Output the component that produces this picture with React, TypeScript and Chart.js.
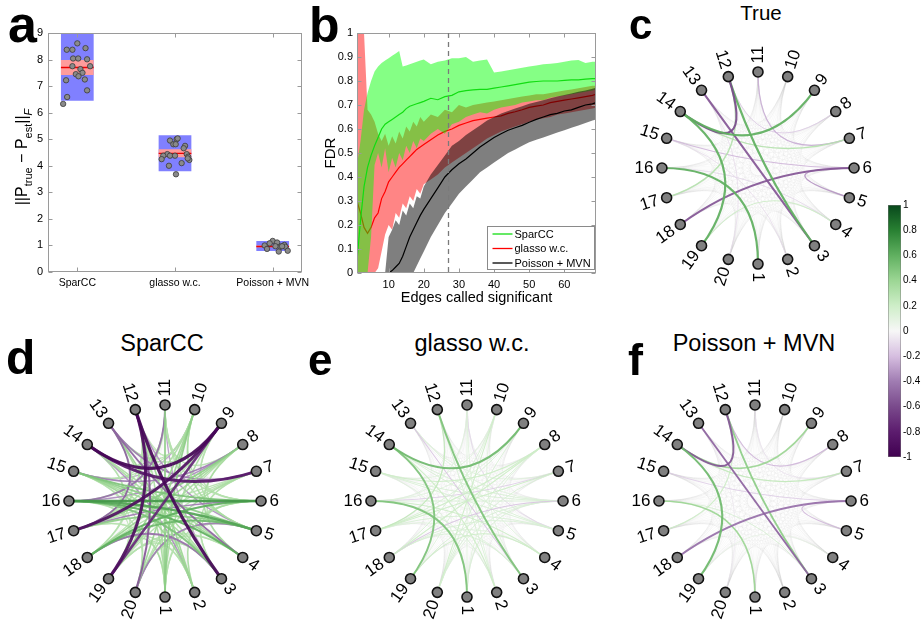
import React, { useEffect, useRef } from 'react';
import { Chart, registerables } from 'chart.js';

Chart.register(...registerables);

const FONT = "'Liberation Sans', Arial, Helvetica, sans-serif";
Chart.defaults.font.family = FONT;
Chart.defaults.color = '#000';

// ---------------- Panel a data ----------------
const methods = ['SparCC', 'glasso w.c.', 'Poisson + MVN'];
const methodPos = [1, 2, 3];
const boxLow = [6.45, 3.79, 0.79];
const boxHigh = [9.0, 5.15, 1.17];
const ciLow = [7.42, 4.32, 0.93];
const ciHigh = [7.98, 4.62, 1.0];
const medians = [7.7, 4.47, 0.96];
const sparccErr = [8.37, 8.37, 8.61, 8.43, 8.04, 8.04, 8.01, 7.75, 7.64, 7.5, 7.45, 7.37, 7.22, 7.25, 7.75, 6.84, 6.59, 6.33];
const sparccJitter = [-0.108, -0.05, 0.0, 0.084, -0.043, 0.009, 0.1, -0.05, 0.032, 0.053, -0.015, 0.012, -0.115, 0.077, 0.131, 0.1, -0.104, -0.145];
const glassoErr = [4.95, 5.0, 5.03, 4.81, 4.81, 4.75, 4.66, 4.44, 4.38, 4.38, 4.38, 4.44, 4.34, 4.22, 4.25, 4.1, 4.0, 3.68, 4.28];
const glassoJitter = [-0.051, 0.017, 0.027, -0.017, 0.007, 0.103, 0.089, -0.079, -0.12, -0.051, 0.0, 0.12, 0.135, 0.147, -0.137, 0.068, -0.062, 0.01, 0.13];
const poissonErr = [1.0, 0.87, 1.17, 1.11, 1.08, 0.95, 0.98, 1.02, 0.95, 0.8, 0.77, 0.97, 0.97];
const poissonJitter = [-0.082, -0.058, 0.0, 0.045, -0.031, 0.079, 0.106, 0.12, 0.13, 0.154, 0.062, 0.028, 0.096];
const yTicksA = [0, 1, 2, 3, 4, 5, 6, 7, 8, 9];

// ---------------- Panel b data ----------------
const edgesCalled = [1, 2, 3, 4, 5, 6, 7, 8, 9, 10, 11, 12, 13, 14, 15, 16, 17, 18, 19, 20, 22, 24, 26, 28, 30, 32, 34, 36, 38, 40, 42, 44, 46, 48, 50, 52, 54, 56, 58, 60, 62, 64, 66, 68, 69];
const sparccMean = [0.05, 0.22, 0.36, 0.44, 0.49, 0.53, 0.565, 0.6, 0.62, 0.63, 0.64, 0.65, 0.66, 0.67, 0.685, 0.695, 0.7, 0.705, 0.71, 0.715, 0.728, 0.722, 0.735, 0.74, 0.755, 0.76, 0.763, 0.765, 0.765, 0.77, 0.775, 0.78, 0.785, 0.79, 0.795, 0.798, 0.8, 0.8, 0.8, 0.803, 0.805, 0.805, 0.808, 0.81, 0.81];
const sparccHi = [0.45, 0.55, 0.68, 0.75, 0.8, 0.84, 0.86, 0.875, 0.885, 0.895, 0.905, 0.915, 0.925, 0.86, 0.865, 0.87, 0.875, 0.88, 0.885, 0.89, 0.87, 0.88, 0.885, 0.895, 0.895, 0.9, 0.88, 0.885, 0.89, 0.835, 0.84, 0.845, 0.85, 0.855, 0.86, 0.865, 0.87, 0.872, 0.875, 0.88, 0.885, 0.888, 0.875, 0.88, 0.88];
const sparccLo = [0, 0, 0, 0, 0.15, 0.45, 0.5, 0.44, 0.52, 0.42, 0.48, 0.44, 0.5, 0.47, 0.53, 0.5, 0.55, 0.52, 0.56, 0.55, 0.58, 0.6, 0.58, 0.62, 0.63, 0.65, 0.66, 0.67, 0.665, 0.68, 0.69, 0.695, 0.7, 0.71, 0.715, 0.72, 0.72, 0.73, 0.735, 0.74, 0.745, 0.75, 0.755, 0.76, 0.765];
const glassoMean = [0.3, 0.25, 0.19, 0.165, 0.19, 0.23, 0.25, 0.31, 0.34, 0.38, 0.4, 0.42, 0.44, 0.455, 0.47, 0.485, 0.5, 0.515, 0.525, 0.535, 0.555, 0.575, 0.59, 0.6, 0.615, 0.625, 0.635, 0.64, 0.645, 0.65, 0.655, 0.665, 0.672, 0.68, 0.69, 0.695, 0.7, 0.71, 0.715, 0.72, 0.725, 0.73, 0.735, 0.74, 0.745];
const glassoHi = [1, 1, 1, 0.68, 0.66, 0.63, 0.58, 0.55, 0.58, 0.53, 0.57, 0.54, 0.59, 0.56, 0.61, 0.59, 0.63, 0.61, 0.65, 0.63, 0.66, 0.65, 0.68, 0.67, 0.7, 0.69, 0.7, 0.705, 0.71, 0.715, 0.72, 0.725, 0.73, 0.735, 0.74, 0.745, 0.745, 0.75, 0.755, 0.76, 0.765, 0.77, 0.775, 0.78, 0.78];
const glassoLo = [0, 0, 0, 0, 0, 0, 0.02, 0.09, 0.16, 0.2, 0.18, 0.25, 0.23, 0.29, 0.27, 0.32, 0.3, 0.35, 0.33, 0.37, 0.39, 0.41, 0.44, 0.46, 0.48, 0.5, 0.52, 0.54, 0.56, 0.575, 0.59, 0.6, 0.61, 0.62, 0.63, 0.64, 0.645, 0.65, 0.66, 0.665, 0.67, 0.675, 0.68, 0.685, 0.69];
const poissonMean = [null, null, null, null, null, null, null, null, 0, 0, 0.01, 0.025, 0.04, 0.07, 0.11, 0.15, 0.18, 0.21, 0.24, 0.265, 0.31, 0.355, 0.4, 0.43, 0.455, 0.475, 0.5, 0.525, 0.545, 0.565, 0.58, 0.595, 0.605, 0.615, 0.628, 0.64, 0.65, 0.66, 0.665, 0.675, 0.68, 0.69, 0.7, 0.705, 0.71];
const poissonHi = [null, null, null, null, null, null, null, null, 0, 0.15, 0.18, 0.22, 0.2, 0.26, 0.24, 0.29, 0.27, 0.32, 0.31, 0.36, 0.41, 0.45, 0.49, 0.53, 0.55, 0.575, 0.595, 0.615, 0.635, 0.65, 0.665, 0.675, 0.685, 0.695, 0.705, 0.712, 0.72, 0.728, 0.735, 0.742, 0.748, 0.755, 0.76, 0.768, 0.772];
const poissonLo = [null, null, null, null, null, null, null, null, 0, 0, 0, 0, 0, 0, 0, 0, 0, 0.03, 0.06, 0.09, 0.15, 0.2, 0.25, 0.29, 0.33, 0.36, 0.39, 0.42, 0.44, 0.46, 0.48, 0.5, 0.515, 0.53, 0.545, 0.555, 0.565, 0.575, 0.585, 0.595, 0.605, 0.615, 0.625, 0.635, 0.64];
const xTicksB = [10, 20, 30, 40, 50, 60];
const cutoffEdges = 27;
const legendOrder = ['SparCC', 'glasso w.c.', 'Poisson + MVN'];

// ---------------- Networks ----------------
const nodeIds = [1, 2, 3, 4, 5, 6, 7, 8, 9, 10, 11, 12, 13, 14, 15, 16, 17, 18, 19, 20];
const trueEdges = [
  [12, 3, 0.6], [13, 3, -0.55], [14, 12, -0.6], [14, 19, 0.6], [14, 9, 0.6], [16, 1, 0.6], [18, 6, -0.55],
  [14, 7, 0.3], [15, 6, -0.22], [6, 5, -0.32], [11, 7, -0.25], [12, 8, -0.15], [17, 12, 0.3], [19, 4, 0.2],
  [16, 4, -0.12], [20, 13, -0.1], [2, 15, -0.1],
];
const sparccEdges = [
  [14, 9, -0.95], [12, 3, -0.95], [17, 9, -0.9], [19, 12, -0.9], [7, 14, -0.85], [19, 9, -0.75],
  [20, 12, -0.55], [17, 13, -0.5], [13, 4, -0.5], [18, 3, -0.45], [11, 16, -0.45], [13, 7, -0.4], [15, 8, -0.4],
  [20, 5, -0.4], [6, 17, -0.4], [2, 14, -0.35], [12, 5, -0.35], [16, 8, -0.35], [11, 3, -0.3], [10, 15, -0.3],
  [16, 6, 0.7], [16, 5, 0.65], [18, 6, 0.6], [16, 4, 0.6], [18, 5, 0.55], [16, 3, 0.5], [15, 6, 0.5], [17, 5, 0.45],
  [15, 5, 0.45], [10, 1, 0.45], [8, 17, 0.45], [10, 20, 0.4], [10, 19, 0.4], [8, 18, 0.4], [1, 11, 0.45], [2, 12, 0.4],
  [2, 13, 0.4], [2, 15, 0.4], [4, 15, 0.4], [9, 1, 0.35], [1, 12, 0.35], [1, 13, 0.35], [4, 14, 0.35], [3, 14, 0.35],
  [3, 15, 0.35], [20, 7, 0.35], [19, 8, 0.35], [17, 10, 0.35], [10, 5, 0.35], [8, 4, 0.35], [6, 2, 0.35], [1, 18, 0.35],
  [20, 8, 0.3], [19, 7, 0.3], [18, 9, 0.3], [17, 11, 0.3], [15, 11, 0.3], [14, 10, 0.3], [13, 10, 0.3], [13, 9, 0.3],
  [11, 9, 0.3], [11, 8, 0.3], [11, 6, 0.3], [11, 5, 0.3], [10, 6, 0.3], [9, 6, 0.3], [9, 5, 0.3], [8, 5, 0.3],
  [7, 4, 0.3], [7, 3, 0.3], [6, 3, 0.3], [6, 1, 0.3], [5, 1, 0.3], [4, 20, 0.3], [4, 19, 0.3], [3, 19, 0.3],
  [3, 20, 0.3], [2, 19, 0.3], [2, 18, 0.3], [1, 17, 0.3], [20, 16, 0.3], [20, 15, 0.3], [18, 14, 0.3], [17, 14, 0.3],
  [17, 12, 0.3], [16, 12, 0.3], [15, 12, 0.3], [14, 11, 0.3], [13, 11, 0.3], [18, 13, 0.3], [7, 17, 0.3], [7, 18, 0.3],
  [12, 9, 0.25], [19, 15, 0.25], [12, 10, 0.25], [20, 17, 0.25], [19, 16, 0.25],
];
const glassoEdges = [
  [14, 9, 0.55], [12, 3, 0.5], [14, 19, 0.5], [16, 1, 0.5], [13, 3, -0.18], [18, 6, -0.18], [7, 16, -0.15],
  [11, 5, -0.12], [17, 12, 0.25], [15, 6, 0.15], [16, 6, 0.15], [20, 10, 0.2], [18, 8, 0.2], [19, 6, 0.15],
  [16, 4, 0.2], [2, 14, 0.2], [17, 5, 0.15], [15, 8, 0.2], [10, 18, 0.15], [9, 20, 0.15], [19, 4, 0.2],
  [1, 11, 0.12], [18, 3, 0.15], [17, 7, 0.2], [15, 5, 0.15], [12, 2, 0.15], [16, 9, 0.12], [14, 6, 0.15],
  [20, 8, 0.15], [10, 3, 0.12], [11, 16, 0.12], [13, 6, 0.12], [12, 4, 0.12], [6, 1, 0.15], [8, 17, 0.2],
  [5, 18, 0.15], [2, 16, 0.15], [13, 7, 0.12], [14, 5, 0.15], [7, 20, 0.15], [4, 18, 0.12], [9, 17, 0.15],
  [10, 15, 0.12], [3, 17, 0.12], [1, 15, 0.12], [2, 11, 0.12], [20, 6, 0.12], [19, 10, 0.12], [8, 1, 0.12],
];
const poissonEdges = [
  [12, 3, 0.45], [13, 3, -0.5], [14, 12, -0.55], [14, 19, 0.55], [14, 9, 0.4], [16, 1, 0.4], [18, 6, -0.45],
  [14, 7, 0.25], [15, 6, -0.15], [6, 5, -0.22], [12, 8, -0.22], [17, 12, 0.2], [16, 3, 0.15], [11, 7, -0.08],
  [19, 4, 0.08], [20, 13, -0.06],
];
const colorbarRange = [-1, 1];

// ---------------- Styles ----------------
const CMAP = [
  [-1, 64, 0, 80], [-0.8, 92, 28, 110], [-0.6, 122, 74, 140], [-0.4, 160, 124, 178], [-0.2, 214, 190, 224],
  [0, 247, 247, 247], [0.2, 206, 238, 200], [0.4, 156, 214, 148], [0.6, 96, 176, 96], [0.8, 40, 128, 50], [1, 8, 72, 28],
];
function cmap(v: number, alpha = 1) {
  const c = Math.max(-1, Math.min(1, v));
  for (let i = 0; i < CMAP.length - 1; i++) {
    const a = CMAP[i], b = CMAP[i + 1];
    if (c >= a[0] && c <= b[0]) {
      const t = (c - a[0]) / (b[0] - a[0]);
      const r = Math.round(a[1] + t * (b[1] - a[1]));
      const g = Math.round(a[2] + t * (b[2] - a[2]));
      const bl = Math.round(a[3] + t * (b[3] - a[3]));
      return `rgba(${r},${g},${bl},${alpha})`;
    }
  }
  return `rgba(0,0,0,${alpha})`;
}

const BASE: any = {
  animation: false,
  responsive: false,
  devicePixelRatio: 1,
  events: [],
};

function drawFrame(chart: any) {
  const { ctx, chartArea: a, scales } = chart;
  ctx.save();
  ctx.strokeStyle = '#9a9a9a';
  ctx.lineWidth = 1;
  const L = Math.round(a.left) + 0.5, R = Math.round(a.right) - 0.5, T = Math.round(a.top) + 0.5, B = Math.round(a.bottom) - 0.5;
  ctx.strokeRect(L, T, R - L, B - T);
  ctx.beginPath();
  for (const t of scales.x.ticks) {
    const x = Math.round(scales.x.getPixelForValue(t.value)) + 0.5;
    ctx.moveTo(x, B); ctx.lineTo(x, B - 4);
    ctx.moveTo(x, T); ctx.lineTo(x, T + 4);
  }
  for (const t of scales.y.ticks) {
    const y = Math.round(scales.y.getPixelForValue(t.value)) + 0.5;
    ctx.moveTo(L, y); ctx.lineTo(L + 4, y);
    ctx.moveTo(R, y); ctx.lineTo(R - 4, y);
  }
  ctx.stroke();
  ctx.restore();
}

// ---------------- Panel a ----------------
function panelA(): any {
  const bar = (lo: number[], hi: number[]) => methodPos.map((x, i) => ({ x, y: [lo[i], hi[i]] }));
  const MED_HALF = 0.025;
  const pts = [
    ...sparccErr.map((y, i) => ({ x: methodPos[0] + sparccJitter[i], y })),
    ...glassoErr.map((y, i) => ({ x: methodPos[1] + glassoJitter[i], y })),
    ...poissonErr.map((y, i) => ({ x: methodPos[2] + poissonJitter[i], y })),
  ];
  const barOpts = { type: 'bar', grouped: false, categoryPercentage: 1, barPercentage: 0.335, borderWidth: 0 };
  return {
    type: 'scatter',
    data: {
      datasets: [
        { type: 'scatter', data: pts, pointRadius: 2.7, backgroundColor: '#8a8a8a', borderColor: '#3a3a3a', borderWidth: 0.8, order: 0 },
        { ...barOpts, data: bar(medians.map((m) => m - MED_HALF), medians.map((m) => m + MED_HALF)), backgroundColor: '#ee0000', order: 1 },
        { ...barOpts, data: bar(ciLow, ciHigh), backgroundColor: '#ff9c9c', order: 2 },
        { ...barOpts, data: bar(boxLow, boxHigh), backgroundColor: '#8080ff', order: 3 },
      ],
    },
    options: {
      ...BASE,
      layout: { padding: { left: 0, right: 18, top: 33, bottom: 0 } },
      plugins: { legend: { display: false }, tooltip: { enabled: false } },
      scales: {
        x: {
          type: 'linear', min: 0.7, max: 3.3, offset: false,
          grid: { display: false, drawTicks: false }, border: { display: false },
          ticks: { font: { size: 10.5 }, padding: 5, maxRotation: 0, autoSkip: false, callback: (v: number) => methods[methodPos.indexOf(v)] ?? '' },
          afterBuildTicks: (s: any) => { s.ticks = methodPos.map((v) => ({ value: v })); },
          afterFit: (s: any) => { s.height = 28; },
        },
        y: {
          type: 'linear', min: 0, max: 9,
          grid: { display: false, drawTicks: false }, border: { display: false },
          ticks: { font: { size: 11 }, padding: 5 },
          afterBuildTicks: (s: any) => { s.ticks = yTicksA.map((v) => ({ value: v })); },
          afterFit: (s: any) => { s.width = 48; },
        },
      },
    },
    plugins: [{ id: 'frameA', afterDatasetsDraw: drawFrame }],
  };
}

// ---------------- Panel b ----------------
function panelB(): any {
  const pts = (arr: (number | null)[]) => edgesCalled.map((x, i) => ({ x, y: arr[i] }));
  const line = (label: string, arr: any, color: string, order: number) => ({ label, data: pts(arr), borderColor: color, borderWidth: 1.2, pointRadius: 0, fill: false, order });
  const band = (arr: any, color: string, order: number, fill: any) => ({ data: pts(arr), borderColor: 'transparent', borderWidth: 0, pointRadius: 0, backgroundColor: color, fill, order });
  return {
    type: 'line',
    data: {
      datasets: [
        line('Poisson + MVN', poissonMean, '#000000', 0),
        band(poissonHi, 'rgba(0,0,0,0.5)', 1, '+1'),
        band(poissonLo, 'rgba(0,0,0,0)', 1, false),
        line('SparCC', sparccMean, '#11dd11', 2),
        band(sparccHi, 'rgba(0,255,0,0.48)', 3, '+1'),
        band(sparccLo, 'rgba(0,0,0,0)', 3, false),
        line('glasso w.c.', glassoMean, '#ff0000', 4),
        band(glassoHi, 'rgba(255,0,0,0.48)', 5, '+1'),
        band(glassoLo, 'rgba(0,0,0,0)', 5, false),
      ],
    },
    options: {
      ...BASE,
      layout: { padding: { left: 0, right: 24, top: 33, bottom: 0 } },
      plugins: { legend: { display: false }, tooltip: { enabled: false } },
      scales: {
        x: {
          type: 'linear', min: 1, max: 69,
          grid: { display: false, drawTicks: false }, border: { display: false },
          ticks: { font: { size: 11 }, padding: 5, maxRotation: 0 },
          afterBuildTicks: (s: any) => { s.ticks = xTicksB.map((v) => ({ value: v })); },
          title: { display: true, text: 'Edges called significant', font: { size: 14.5 }, padding: { top: 0, bottom: 3 } },
          afterFit: (s: any) => { s.height = 37; },
        },
        y: {
          type: 'linear', min: 0, max: 1,
          grid: { display: false, drawTicks: false }, border: { display: false },
          ticks: { font: { size: 11 }, padding: 4, stepSize: 0.1, callback: (v: number) => String(Math.round(v * 10) / 10) },
          title: { display: true, text: 'FDR', font: { size: 15 }, padding: { top: 2, bottom: 0 } },
          afterFit: (s: any) => { s.width = 37; },
        },
      },
    },
    plugins: [{
      id: 'decorB',
      afterDatasetsDraw(chart: any) {
        drawFrame(chart);
        const { ctx, chartArea: a, scales } = chart;
        const x = Math.round(scales.x.getPixelForValue(cutoffEdges)) + 0.5;
        ctx.save();
        ctx.strokeStyle = '#7a7a7a';
        ctx.lineWidth = 1.3;
        ctx.setLineDash([5, 4]);
        ctx.beginPath();
        ctx.moveTo(x, scales.y.getPixelForValue(1));
        ctx.lineTo(x, scales.y.getPixelForValue(0));
        ctx.stroke();
        ctx.restore();
        const w = 107, h = 43;
        const bx = Math.round(a.right) - 1.5 - w, by = Math.round(a.bottom) - 3.5 - h;
        ctx.save();
        ctx.fillStyle = '#fff';
        ctx.strokeStyle = '#8a8a8a';
        ctx.lineWidth = 1;
        ctx.fillRect(bx, by, w, h);
        ctx.strokeRect(bx, by, w, h);
        ctx.font = `11px ${FONT}`;
        ctx.textBaseline = 'middle';
        ctx.textAlign = 'left';
        legendOrder.forEach((lab, i) => {
          const ds = chart.data.datasets.find((d: any) => d.label === lab);
          const yy = by + 7.5 + i * 14.5;
          ctx.strokeStyle = ds.borderColor;
          ctx.lineWidth = 1.3;
          ctx.beginPath();
          ctx.moveTo(bx + 5, yy);
          ctx.lineTo(bx + 25, yy);
          ctx.stroke();
          ctx.fillStyle = '#000';
          ctx.fillText(lab, bx + 27, yy + 0.5);
        });
        ctx.restore();
      },
    }],
  };
}

// ---------------- Network panels ----------------
const nodeAngle = (i: number) => -Math.PI / 2 + (i * 2 * Math.PI) / nodeIds.length;
const NET_SIZE = 270;
const NET_R = 101;

function networkConfig(edges: number[][]): any {
  const n = nodeIds.length;
  const nodes = nodeIds.map((_, i) => ({ x: Math.cos(nodeAngle(i)), y: Math.sin(nodeAngle(i)) }));
  const S = NET_SIZE / 2 / NET_R;
  return {
    type: 'scatter',
    data: {
      datasets: [{ data: nodes, pointRadius: 5, pointHoverRadius: 5, backgroundColor: '#808080', borderColor: '#111111', borderWidth: 1.6 }],
    },
    options: {
      ...BASE,
      layout: { padding: 0 },
      plugins: { legend: { display: false }, tooltip: { enabled: false } },
      scales: {
        x: { type: 'linear', display: false, min: -S, max: S },
        y: { type: 'linear', display: false, min: -S, max: S },
      },
    },
    plugins: [{
      id: 'chords',
      beforeDatasetsDraw(chart: any) {
        const { ctx } = chart;
        const sx = chart.scales.x, sy = chart.scales.y;
        const px = nodes.map((p) => [sx.getPixelForValue(p.x), sy.getPixelForValue(p.y)]);
        const cx = sx.getPixelForValue(0), cy = sy.getPixelForValue(0);
        const chord = (a: number, b: number) => {
          ctx.beginPath();
          ctx.moveTo(px[a][0], px[a][1]);
          ctx.quadraticCurveTo(cx, cy, px[b][0], px[b][1]);
          ctx.stroke();
        };
        ctx.save();
        ctx.lineCap = 'round';
        ctx.strokeStyle = 'rgba(190,190,190,0.15)';
        ctx.lineWidth = 0.6;
        for (let a = 0; a < n; a++) for (let b = a + 1; b < n; b++) chord(a, b);
        const sorted = [...edges].sort((p, q) => Math.abs(p[2]) - Math.abs(q[2]));
        for (const [a, b, w] of sorted) {
          ctx.strokeStyle = cmap(w, 0.92);
          ctx.lineWidth = 0.5 + 2.8 * Math.abs(w);
          chord(nodeIds.indexOf(a), nodeIds.indexOf(b));
        }
        ctx.restore();
      },
      afterDatasetsDraw(chart: any) {
        const { ctx } = chart;
        const sx = chart.scales.x, sy = chart.scales.y;
        ctx.save();
        ctx.font = `17px ${FONT}`;
        ctx.fillStyle = '#000';
        ctx.textBaseline = 'middle';
        nodeIds.forEach((id, i) => {
          let th = nodeAngle(i);
          if (th > Math.PI) th -= 2 * Math.PI;
          const x = sx.getPixelForValue(Math.cos(th)), y = sy.getPixelForValue(Math.sin(th));
          const leftSide = Math.abs(th) > Math.PI / 2 + 1e-6;
          ctx.save();
          ctx.translate(x, y);
          ctx.rotate(-(leftSide ? th + Math.PI : th));
          ctx.textAlign = leftSide ? 'right' : 'left';
          ctx.fillText(String(id), leftSide ? -8.5 : 8.5, 0);
          ctx.restore();
        });
        ctx.restore();
      },
    }],
  };
}

// ---------------- Colorbar ----------------
function colorbarConfig(): any {
  return {
    type: 'bar',
    data: {
      labels: [''],
      datasets: [{
        data: [colorbarRange],
        backgroundColor: (c: any) => {
          const a = c.chart.chartArea;
          if (!a) return '#ccc';
          const g = c.chart.ctx.createLinearGradient(0, a.bottom, 0, a.top);
          CMAP.forEach(([v, r, gg, b]) => g.addColorStop((v + 1) / 2, `rgb(${r},${gg},${b})`));
          return g;
        },
        borderColor: '#777',
        borderWidth: 0.8,
        borderSkipped: false,
        barPercentage: 1,
        categoryPercentage: 1,
      }],
    },
    options: {
      ...BASE,
      layout: { padding: { left: 18, top: 10, bottom: 8, right: 0 } },
      plugins: { legend: { display: false }, tooltip: { enabled: false } },
      scales: {
        x: { display: false },
        y: {
          position: 'right', min: colorbarRange[0], max: colorbarRange[1],
          grid: { display: false, drawTicks: false }, border: { display: false },
          ticks: { stepSize: 0.2, font: { size: 10 }, padding: 2, callback: (v: number) => String(Math.round(v * 10) / 10) },
          afterFit: (s: any) => { s.width = 23; },
        },
      },
    },
  };
}

// ---------------- Components ----------------
function ChartCanvas({ make, left, top, width, height }: any) {
  const ref = useRef<HTMLCanvasElement>(null);
  useEffect(() => {
    const chart = new Chart(ref.current as HTMLCanvasElement, make());
    return () => chart.destroy();
  }, []);
  return <canvas ref={ref} width={width} height={height} style={{ position: 'absolute', left, top, width, height }} />;
}

function Txt({ x, base, size, bold, center, children }: any) {
  return (
    <div
      style={{
        position: 'absolute',
        left: x,
        top: base - 0.8465 * size,
        fontSize: size,
        lineHeight: `${size}px`,
        fontWeight: bold ? 'bold' : 'normal',
        whiteSpace: 'nowrap',
        transform: center ? 'translateX(-50%)' : undefined,
      }}
    >
      {children}
    </div>
  );
}

export default function App() {
  return (
    <div style={{ position: 'absolute', left: 0, top: 0, width: 924, height: 633, overflow: 'hidden', background: '#fff', fontFamily: FONT, color: '#000' }}>
      <ChartCanvas make={panelA} left={0} top={0} width={320} height={300} />
      <ChartCanvas make={panelB} left={320} top={0} width={300} height={310} />
      <ChartCanvas make={() => networkConfig(trueEdges)} left={623} top={33} width={NET_SIZE} height={NET_SIZE} />
      <ChartCanvas make={() => networkConfig(sparccEdges)} left={30} top={366} width={NET_SIZE} height={NET_SIZE} />
      <ChartCanvas make={() => networkConfig(glassoEdges)} left={332} top={366} width={NET_SIZE} height={NET_SIZE} />
      <ChartCanvas make={() => networkConfig(poissonEdges)} left={620} top={366} width={NET_SIZE} height={NET_SIZE} />
      <ChartCanvas make={colorbarConfig} left={870} top={195} width={54} height={270} />

      <div
        style={{
          position: 'absolute', left: 25, top: 157, fontSize: 16, lineHeight: '16px', whiteSpace: 'nowrap',
          transform: 'translate(-50%,-50%) rotate(-90deg)',
        }}
      >
        ||P<sub style={{ fontSize: 11 }}>true</sub> − P<sub style={{ fontSize: 11 }}>est</sub>||<sub style={{ fontSize: 11 }}><i>F</i></sub>
      </div>

      <Txt x={8} base={42} size={52} bold>a</Txt>
      <Txt x={309} base={42} size={50} bold>b</Txt>
      <Txt x={629} base={40} size={42} bold>c</Txt>
      <Txt x={6} base={375} size={48} bold>d</Txt>
      <Txt x={308} base={375} size={44} bold>e</Txt>
      <Txt x={628} base={375} size={45} bold>f</Txt>

      <Txt x={761} base={20} size={20.5} center>True</Txt>
      <Txt x={162} base={352} size={23.5} center>SparCC</Txt>
      <Txt x={472} base={352} size={23.5} center>glasso w.c.</Txt>
      <Txt x={754} base={352} size={23.5} center>Poisson + MVN</Txt>
    </div>
  );
}
